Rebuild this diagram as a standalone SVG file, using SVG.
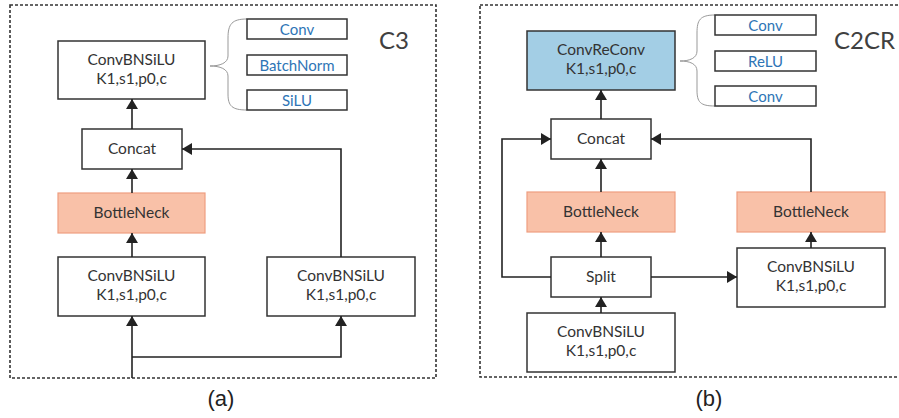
<svg xmlns="http://www.w3.org/2000/svg" width="899" height="418" viewBox="0 0 899 418">
  <style>
    .frame { fill: none; stroke: #333; stroke-width: 1.6; stroke-dasharray: 3 2; }
    .box { fill: #fff; stroke: #333; stroke-width: 1.5; }
    .neck { fill: #F9C1A8; stroke: #EE9E80; stroke-width: 1.2; }
    .crc { fill: #A3CEE5; stroke: #333; stroke-width: 1.5; }
    .sub { fill: #fff; stroke: #333; stroke-width: 1.5; }
    .brace { fill: none; stroke: #999; stroke-width: 1; }
    .wire { fill: none; stroke: #222; stroke-width: 1.6; }
    .lbl { font-family: Lato, "Open Sans", sans-serif; font-size: 15.5px; fill: #333; text-anchor: middle; }
    .sublbl { font-family: Lato, "Open Sans", sans-serif; font-size: 15px; fill: #2E75B6; text-anchor: middle; }
    .title { font-family: Lato, "Open Sans", sans-serif; font-size: 24px; fill: #404040; }
    .cap { font-family: "Liberation Sans", Arial, sans-serif; font-size: 22px; fill: #222; text-anchor: middle; }
  </style>
  <defs>
    <marker id="arrow" markerUnits="userSpaceOnUse" markerWidth="11" markerHeight="13" refX="10" refY="6" orient="auto">
      <path d="M0,0 L10,6 L0,12 Z" fill="#222"/>
    </marker>
  </defs>

  <!-- panel frames -->
  <rect class="frame" x="10" y="5" width="426" height="373"/>
  <rect class="frame" x="480" y="5" width="430" height="372"/>

  <!-- ===== (a) C3 ===== -->
  <text class="title" x="379" y="49">C3</text>

  <g id="a-top-conv">
    <rect class="box" x="58" y="41" width="147" height="58"/>
    <text class="lbl" x="131.5" y="65">ConvBNSiLU</text>
    <text class="lbl" x="131.5" y="84">K1,s1,p0,c</text>
  </g>
  <g id="a-brace">
    <path class="brace" d="M247,19 C232,19 228,24 228,38 L228,56 C228,63 220,66 210,66 C220,66 228,69 228,76 L228,94 C228,106 232,110 247,110"/>
  </g>
  <g id="a-sub-conv">
    <rect class="sub" x="247" y="19" width="100" height="20"/>
    <text class="sublbl" x="297" y="34.5">Conv</text>
  </g>
  <g id="a-sub-bn">
    <rect class="sub" x="247" y="55" width="100" height="20"/>
    <text class="sublbl" x="297" y="70.5">BatchNorm</text>
  </g>
  <g id="a-sub-silu">
    <rect class="sub" x="247" y="90" width="100" height="20"/>
    <text class="sublbl" x="297" y="105.5">SiLU</text>
  </g>
  <g id="a-concat">
    <rect class="box" x="82" y="129" width="100" height="40"/>
    <text class="lbl" x="132" y="154">Concat</text>
  </g>
  <g id="a-bottleneck">
    <rect class="neck" x="58" y="193" width="147" height="40"/>
    <text class="lbl" x="131.5" y="218">BottleNeck</text>
  </g>
  <g id="a-left-conv">
    <rect class="box" x="58" y="257" width="147" height="59"/>
    <text class="lbl" x="131.5" y="281">ConvBNSiLU</text>
    <text class="lbl" x="131.5" y="300">K1,s1,p0,c</text>
  </g>
  <g id="a-right-conv">
    <rect class="box" x="267" y="257" width="148" height="59"/>
    <text class="lbl" x="341" y="281">ConvBNSiLU</text>
    <text class="lbl" x="341" y="300">K1,s1,p0,c</text>
  </g>
  <text class="cap" x="221" y="406">(a)</text>

  <!-- ===== (b) C2CR ===== -->
  <text class="title" x="834" y="49">C2CR</text>

  <g id="b-top-crc">
    <rect class="crc" x="527" y="31" width="148" height="59"/>
    <text class="lbl" x="601" y="55">ConvReConv</text>
    <text class="lbl" x="601" y="74">K1,s1,p0,c</text>
  </g>
  <g id="b-brace">
    <path class="brace" d="M715,15 C700,15 697,20 697,33 L697,51 C697,58 690,61 680,61 C690,61 697,64 697,71 L697,90 C697,102 700,106 715,106"/>
  </g>
  <g id="b-sub-conv1">
    <rect class="sub" x="715" y="15" width="101" height="20"/>
    <text class="sublbl" x="765.5" y="30.5">Conv</text>
  </g>
  <g id="b-sub-relu">
    <rect class="sub" x="715" y="51" width="101" height="20"/>
    <text class="sublbl" x="765.5" y="66.5">ReLU</text>
  </g>
  <g id="b-sub-conv2">
    <rect class="sub" x="715" y="86" width="101" height="20"/>
    <text class="sublbl" x="765.5" y="101.5">Conv</text>
  </g>
  <g id="b-concat">
    <rect class="box" x="551" y="119" width="100" height="40"/>
    <text class="lbl" x="601" y="144">Concat</text>
  </g>
  <g id="b-left-bottleneck">
    <rect class="neck" x="527" y="192" width="148" height="40"/>
    <text class="lbl" x="601" y="217">BottleNeck</text>
  </g>
  <g id="b-right-bottleneck">
    <rect class="neck" x="737" y="192" width="148" height="40"/>
    <text class="lbl" x="811" y="217">BottleNeck</text>
  </g>
  <g id="b-split">
    <rect class="box" x="551" y="257" width="100" height="40"/>
    <text class="lbl" x="601" y="282">Split</text>
  </g>
  <g id="b-right-conv">
    <rect class="box" x="737" y="248" width="148" height="59"/>
    <text class="lbl" x="811" y="272">ConvBNSiLU</text>
    <text class="lbl" x="811" y="291">K1,s1,p0,c</text>
  </g>
  <g id="b-bottom-conv">
    <rect class="box" x="527" y="313" width="148" height="59"/>
    <text class="lbl" x="601" y="337">ConvBNSiLU</text>
    <text class="lbl" x="601" y="356">K1,s1,p0,c</text>
  </g>
  <text class="cap" x="709" y="406">(b)</text>

  <!-- connectors -->
  <g id="connectors">
    <!-- (a) -->
    <path class="wire" d="M132,129 L132,99" marker-end="url(#arrow)"/>
    <path class="wire" d="M132,193 L132,169" marker-end="url(#arrow)"/>
    <path class="wire" d="M132,257 L132,233" marker-end="url(#arrow)"/>
    <path class="wire" d="M341,257 L341,149 L182,149" marker-end="url(#arrow)"/>
    <path class="wire" d="M132,378 L132,316" marker-end="url(#arrow)"/>
    <path class="wire" d="M132,357 L341,357 L341,316" marker-end="url(#arrow)"/>
    <!-- (b) -->
    <path class="wire" d="M601,119 L601,90" marker-end="url(#arrow)"/>
    <path class="wire" d="M601,192 L601,159" marker-end="url(#arrow)"/>
    <path class="wire" d="M601,257 L601,232" marker-end="url(#arrow)"/>
    <path class="wire" d="M601,313 L601,297" marker-end="url(#arrow)"/>
    <path class="wire" d="M551,277 L502,277 L502,139 L551,139" marker-end="url(#arrow)"/>
    <path class="wire" d="M811,192 L811,139 L651,139" marker-end="url(#arrow)"/>
    <path class="wire" d="M651,277 L737,277" marker-end="url(#arrow)"/>
    <path class="wire" d="M811,248 L811,232" marker-end="url(#arrow)"/>
  </g>
</svg>
